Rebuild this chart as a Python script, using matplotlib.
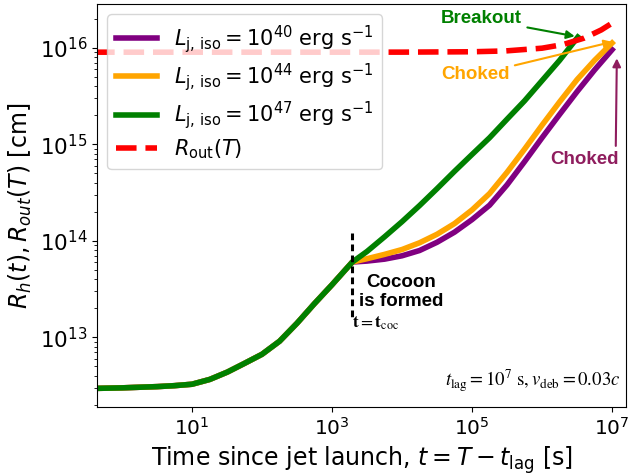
"""Jet head radius vs time, with the outer ejecta radius."""

import matplotlib
matplotlib.use('Agg')
import matplotlib.pyplot as plt
import matplotlib.ticker as mticker

# shared rise before the cocoon forms (all three jets overlap here)
t_early = [0.4, 1, 3.2, 5.6, 10, 18, 32, 56, 100, 178, 316, 562, 1000]
r_early = [2.96e12, 3.0e12, 3.09e12, 3.16e12, 3.27e12, 3.67e12, 4.37e12, 5.37e12,
           6.68e12, 9.12e12, 1.40e13, 2.24e13, 3.51e13]

t_coc = 1950
r_coc = 6.03e13

# after the cocoon forms
t_late = [t_coc, 3160, 5620, 1e4, 1.78e4, 3.16e4, 5.62e4, 1e5, 1.78e5, 3.16e5,
          5.62e5, 1e6, 1.78e6, 3.16e6, 5.62e6, 1e7]
r_purple = [r_coc, 6.17e13, 6.46e13, 7.0e13, 7.94e13, 9.66e13, 1.23e14, 1.66e14,
            2.34e14, 3.80e14, 6.61e14, 1.17e15, 2.04e15, 3.51e15, 5.89e15, 9.55e15]
r_orange = [r_coc, 6.53e13, 7.24e13, 8.13e13, 9.55e13, 1.17e14, 1.51e14, 2.09e14,
            3.09e14, 5.13e14, 8.91e14, 1.58e15, 2.75e15, 4.68e15, 7.41e15, 1.12e16]

t_green = [t_coc, 3160, 5620, 1e4, 1.78e4, 3.16e4, 5.62e4, 1e5, 1.78e5, 3.16e5,
           5.62e5, 1e6, 1.78e6, 3.24e6]
r_green = [r_coc, 7.76e13, 1.10e14, 1.58e14, 2.32e14, 3.47e14, 5.25e14, 7.85e14,
           1.17e15, 1.82e15, 2.82e15, 4.57e15, 7.41e15, 1.29e16]

t_rout = [0.4, 1e3, 1e4, 1e5, 3e5, 1e6, 2e6, 4e6, 7e6, 1e7]
r_rout = [9.0e15, 9.0e15, 9.01e15, 9.09e15, 9.27e15, 9.9e15, 1.08e16, 1.26e16, 1.53e16, 1.8e16]

labels = [r'$L_{\rm j,\,iso} = 10^{40}$ erg s$^{-1}$',
          r'$L_{\rm j,\,iso} = 10^{44}$ erg s$^{-1}$',
          r'$L_{\rm j,\,iso} = 10^{47}$ erg s$^{-1}$',
          r'$R_{\rm out}(T)$']

PURPLE = '#800080'
ORANGE = '#FFA500'
GREEN = '#008000'
CHOKE = '#8f1d5e'

fig = plt.figure(figsize=(6.37, 4.75), dpi=100)
ax = fig.add_axes([97 / 637, 1 - 407 / 475, 529 / 637, 403 / 475])

ax.plot(t_early + t_late, r_early + r_purple, color=PURPLE, lw=4, label=labels[0])
ax.plot(t_early + t_late, r_early + r_orange, color=ORANGE, lw=4, label=labels[1])
ax.plot(t_early + t_green, r_early + r_green, color=GREEN, lw=4, label=labels[2])
ax.plot(t_rout, r_rout, color='red', lw=4, ls='--', label=labels[3])

# cocoon formation marker
ax.plot([t_coc, t_coc], [1.2e14, 1.5e13], color='black', lw=2.2, ls=(0, (2.2, 1.4)))

ax.set_xscale('log')
ax.set_yscale('log')
ax.set_xlim(0.44, 1.58e7)
ax.set_ylim(1.9e12, 2.84e16)
ax.set_xticks([1e1, 1e3, 1e5, 1e7])
ax.xaxis.set_minor_locator(mticker.NullLocator())
ax.tick_params(axis='x', labelsize=14.5)
ax.tick_params(axis='y', labelsize=15.5)

ax.set_xlabel(r'Time since jet launch, $t = T - t_{\rm lag}$ [s]', fontsize=17)
ax.set_ylabel(r'$R_h(t), R_{out}(T)$ [cm]', fontsize=17)

ax.legend(loc='upper left', fontsize=15, labelspacing=0.3)

bold = dict(fontweight='bold', fontsize=13.5, family='Liberation Sans')
ax.annotate('Breakout', xy=(3.2e6, 1.3e16), xytext=(0.65, 0.963),
            textcoords='axes fraction', ha='left', va='center', color=GREEN,
            arrowprops=dict(arrowstyle='-|>', color=GREEN, lw=1.5, mutation_scale=12),
            **bold)
ax.annotate('Choked', xy=(1.1e7, 1.17e16), xytext=(0.65, 0.824),
            textcoords='axes fraction', ha='left', va='center', color=ORANGE,
            arrowprops=dict(arrowstyle='-|>', color=ORANGE, lw=1.5, mutation_scale=12),
            **bold)
ax.annotate('Choked', xy=(1.17e7, 8.3e15), xytext=(0.921, 0.613),
            textcoords='axes fraction', ha='center', va='center', color=CHOKE,
            arrowprops=dict(arrowstyle='-|>', color=CHOKE, lw=1.5, mutation_scale=12,
                            relpos=(0.96, 1.0)),
            **bold)

ax.text(0.575, 0.285, 'Cocoon\nis formed', transform=ax.transAxes,
        ha='center', va='center', linespacing=1.2, **bold)
ax.text(0.482, 0.208, r'$\mathbf{t} = \mathbf{t}_{\rm coc}$', transform=ax.transAxes,
        ha='left', va='center', fontsize=12.5, math_fontfamily='stix')
ax.text(0.989, 0.065, r'$t_{\rm lag} = 10^7\ {\rm s}, v_{\rm deb} = 0.03c$',
        transform=ax.transAxes, ha='right', va='center', fontsize=13.5,
        math_fontfamily='stix')

fig.savefig('out.png', dpi=100)
plt.close(fig)
